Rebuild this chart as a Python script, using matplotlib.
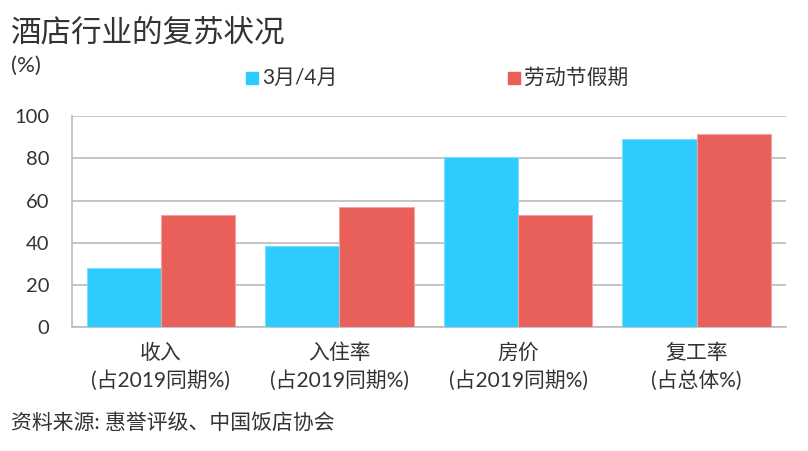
import matplotlib
matplotlib.use("Agg")
import matplotlib.pyplot as plt
import numpy as np

plt.rcParams["font.family"] = ["Lato", "Noto Sans CJK SC", "DejaVu Sans"]

categories = ["收入\n(占2019同期%)", "入住率\n(占2019同期%)", "房价\n(占2019同期%)", "复工率\n(占总体%)"]
march_april = [28, 38.5, 80.5, 89]
may_day = [53, 57, 53, 91.5]
series_names = ["3月/4月", "劳动节假期"]
yticks = [0, 20, 40, 60, 80, 100]

BLUE = "#2ECBFE"
RED = "#E9605B"
TEXT = "#333333"
GRID = "#BBBBBB"


def main():
    fig = plt.figure(figsize=(8.08, 4.51), dpi=100)
    ax = fig.add_axes([0.0885, 0.2743, 0.8843, 0.4685])

    x = np.arange(len(categories))
    w = 0.416
    ax.bar(x - w / 2, march_april, w, color=BLUE, edgecolor="#7FDDFF", linewidth=0.8, zorder=3)
    ax.bar(x + w / 2, may_day, w, color=RED, edgecolor="#F3A3A0", linewidth=0.8, zorder=3)

    ax.set_xlim(-0.5, 3.5)
    ax.set_ylim(0, 100)
    ax.set_yticks(yticks)
    ax.set_xticks(x, labels=categories)
    ax.tick_params(axis="y", length=0, pad=16, labelsize=14.5, labelcolor=TEXT)
    ax.tick_params(axis="x", length=0, pad=11, labelsize=15, labelcolor=TEXT)
    for lab in ax.get_xticklabels():
        lab.set_linespacing(1.45)
    ax.yaxis.grid(True, color=GRID, linewidth=1.2, zorder=0)
    for s in ["top", "right"]:
        ax.spines[s].set_visible(False)
    ax.spines["left"].set_color(GRID)
    ax.spines["bottom"].set_color(GRID)
    ax.spines["left"].set_linewidth(1.2)
    ax.spines["bottom"].set_linewidth(1.2)

    fig.text(11 / 808, 1 - 32 / 451, "酒店行业的复苏状况", fontsize=22, color=TEXT, va="center", ha="left")
    fig.text(11 / 808, 1 - 66 / 451, "(%)", fontsize=16, color=TEXT, va="center", ha="left")

    # legend drawn by hand
    for name, color, x0 in [(series_names[0], BLUE, 246), (series_names[1], RED, 508)]:
        fig.patches.append(plt.Rectangle((x0 / 808, 1 - 84 / 451), 12 / 808, 12 / 451,
                                         transform=fig.transFigure, color=color))
        fig.text((x0 + 16) / 808, 1 - 78 / 451, name, fontsize=15, color=TEXT, va="center", ha="left")

    fig.text(11 / 808, 1 - 423 / 451, "资料来源: 惠誉评级、中国饭店协会", fontsize=15, color=TEXT, va="center", ha="left")

    fig.savefig("out.png", dpi=100)
    plt.close(fig)


if __name__ == "__main__":
    main()
